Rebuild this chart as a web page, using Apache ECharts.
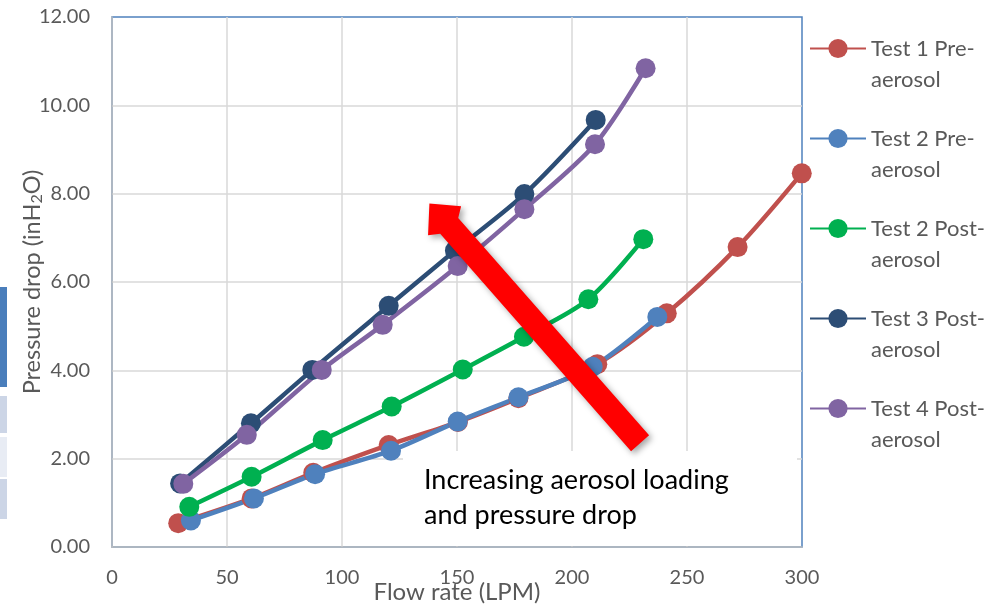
<!DOCTYPE html>
<html>
<head>
<meta charset="utf-8">
<script src="https://cdn.jsdelivr.net/npm/echarts@6/dist/echarts.min.js"></script>
<style>
  html, body { margin: 0; padding: 0; background: #fff; }
  #pressure-chart { width: 995px; height: 607px; }
</style>
</head>
<body>
<div id="pressure-chart"></div>
<script>
// flow rate (LPM) and pressure drop (inH2O)
var flow_t1_pre = [28.8, 60.7, 87.5, 120.3, 150.4, 176.7, 211.0, 241.2, 272.0, 299.9];
var dp_t1_pre = [0.54, 1.10, 1.68, 2.31, 2.83, 3.37, 4.14, 5.29, 6.79, 8.46];
var flow_t2_pre = [34.3, 61.7, 88.3, 121.3, 150.3, 176.7, 209.0, 237.1];
var dp_t2_pre = [0.60, 1.10, 1.65, 2.18, 2.84, 3.39, 4.08, 5.21];
var flow_t2_post = [33.6, 60.7, 91.6, 121.6, 152.5, 179.1, 207.1, 231.0];
var dp_t2_post = [0.91, 1.59, 2.42, 3.18, 4.02, 4.76, 5.61, 6.97];
var flow_t3_post = [29.6, 60.4, 87.1, 120.3, 149.1, 179.3, 210.3];
var dp_t3_post = [1.44, 2.80, 4.01, 5.46, 6.71, 7.99, 9.67];
var flow_t4_post = [31.0, 58.6, 91.2, 117.7, 150.3, 179.3, 210.0, 232.0];
var dp_t4_post = [1.43, 2.54, 4.01, 5.03, 6.36, 7.65, 9.12, 10.84];

var series_names = ['Test 1 Pre-aerosol', 'Test 2 Pre-aerosol', 'Test 2 Post-aerosol', 'Test 3 Post-aerosol', 'Test 4 Post-aerosol'];
// leading blank line keeps the first text line level with the legend marker
var legend_labels = ['\nTest 1 Pre-\naerosol', '\nTest 2 Pre-\naerosol', '\nTest 2 Post-\naerosol', '\nTest 3 Post-\naerosol', '\nTest 4 Post-\naerosol'];
var series_colors = ['#c0504d', '#4f81bd', '#00b050', '#2c4d75', '#8064a2'];
var series_flows = [flow_t1_pre, flow_t2_pre, flow_t2_post, flow_t3_post, flow_t4_post];
var series_dps = [dp_t1_pre, dp_t2_pre, dp_t2_post, dp_t3_post, dp_t4_post];

// arrow annotation, in data units: tail -> head
var arrow_tail = [229.6, 2.35];
var arrow_head = [138.0, 7.78];

var font = 'Lato, "Open Sans", sans-serif';
var grey = '#595959';

function pair_up(xs, ys) {
  var out = [];
  for (var i = 0; i < xs.length; i++) {
    out.push([xs[i], ys[i]]);
  }
  return out;
}

function draw_pressure_chart() {
  var chart = echarts.init(document.getElementById('pressure-chart'));

  var series = series_names.map(function (name, i) {
    return {
      name: name,
      type: 'line',
      smooth: 0.3,
      symbol: 'circle',
      symbolSize: 20,
      itemStyle: { color: series_colors[i] },
      lineStyle: { color: series_colors[i], width: 4.5 },
      emphasis: { disabled: true },
      data: pair_up(series_flows[i], series_dps[i])
    };
  });

  var option = {
    animation: false,
    textStyle: { fontFamily: font },
    grid: {
      left: 112,
      top: 17,
      width: 690,
      height: 530,
      outerBoundsMode: 'none',
      containLabel: false,
      show: true,
      borderColor: '#4f81bd',
      borderWidth: 1.5
    },
    legend: {
      data: series_names,
      orient: 'vertical',
      left: 809,
      top: 2,
      padding: 0,
      itemGap: -3,
      itemWidth: 56,
      itemHeight: 24,
      formatter: function (name) {
        return legend_labels[series_names.indexOf(name)];
      },
      textStyle: {
        color: grey,
        fontSize: 22,
        fontFamily: font,
        lineHeight: 31
      }
    },
    xAxis: {
      type: 'value',
      min: 0,
      max: 300,
      interval: 50,
      name: 'Flow rate (LPM)',
      nameLocation: 'middle',
      nameGap: 33,
      nameMoveOverlap: false,
      nameTextStyle: { color: grey, fontSize: 24, fontFamily: font },
      axisLine: { show: true, lineStyle: { color: '#bfbfbf', width: 1.5 } },
      axisTick: { show: false },
      axisLabel: { color: grey, fontSize: 20, margin: 21, fontFamily: font },
      splitLine: { show: true, showMinLine: false, showMaxLine: false, lineStyle: { color: '#d9d9d9', width: 1.5 } }
    },
    yAxis: {
      type: 'value',
      min: 0,
      max: 12,
      interval: 2,
      name: 'Pressure drop (inH{sub|2}O)',
      nameLocation: 'middle',
      nameGap: 67,
      nameMoveOverlap: false,
      nameTextStyle: {
        color: grey,
        fontSize: 23.5,
        fontFamily: font,
        rich: {
          sub: { fontSize: 16, color: grey, fontFamily: font, padding: [10, 0, 0, 0] }
        }
      },
      axisLine: { show: true, lineStyle: { color: '#bfbfbf', width: 1.5 } },
      axisTick: { show: false },
      axisLabel: {
        color: grey,
        fontSize: 20,
        margin: 22,
        fontFamily: font,
        formatter: function (v) { return v.toFixed(2); }
      },
      splitLine: { show: true, showMinLine: false, showMaxLine: false, lineStyle: { color: '#d9d9d9', width: 1.5 } }
    },
    series: series
  };

  chart.setOption(option);

  // annotations: slide edge marks, text box and the red arrow
  var p_tail = chart.convertToPixel({ gridIndex: 0 }, arrow_tail);
  var p_head = chart.convertToPixel({ gridIndex: 0 }, arrow_head);
  var dx = p_head[0] - p_tail[0];
  var dy = p_head[1] - p_tail[1];
  var len = Math.sqrt(dx * dx + dy * dy);
  var ux = dx / len, uy = dy / len;
  var nx = -uy, ny = ux;
  var half_w = 12, barb_back = 23, barb_w = 22, join_back = 30;
  function at(back, side) {
    return [p_head[0] - ux * back + nx * side, p_head[1] - uy * back + ny * side];
  }
  var arrow_points = [
    p_head,
    at(barb_back, barb_w),
    at(join_back, half_w),
    [p_tail[0] + nx * half_w, p_tail[1] + ny * half_w],
    [p_tail[0] - nx * half_w, p_tail[1] - ny * half_w],
    at(join_back, -half_w),
    at(barb_back, -barb_w)
  ];

  chart.setOption({
    graphic: [
      { type: 'rect', shape: { x: 0, y: 287, width: 7, height: 100 }, style: { fill: '#4a7ebb' }, silent: true },
      { type: 'rect', shape: { x: 0, y: 396, width: 7, height: 37 }, style: { fill: '#ccd5e6' }, silent: true },
      { type: 'rect', shape: { x: 0, y: 437, width: 7, height: 40 }, style: { fill: '#e8ecf4' }, silent: true },
      { type: 'rect', shape: { x: 0, y: 479, width: 7, height: 40 }, style: { fill: '#ccd5e6' }, silent: true },
      { type: 'rect', z: 3, shape: { x: 403, y: 451, width: 394, height: 95 }, style: { fill: '#ffffff' }, silent: true },
      {
        type: 'polygon',
        z: 4,
        shape: { points: arrow_points },
        style: {
          fill: '#ff0000',
          shadowBlur: 6,
          shadowOffsetX: 3,
          shadowOffsetY: 3,
          shadowColor: 'rgba(0,0,0,0.35)'
        },
        silent: true
      },
      {
        type: 'text',
        z: 5,
        x: 424,
        y: 463,
        style: {
          text: 'Increasing aerosol loading\nand pressure drop',
          fill: '#000000',
          fontSize: 27,
          lineHeight: 35,
          fontFamily: font
        },
        silent: true
      }
    ]
  });

  window.addEventListener('resize', function () {
    chart.resize();
  });
}

draw_pressure_chart();
</script>
</body>
</html>
